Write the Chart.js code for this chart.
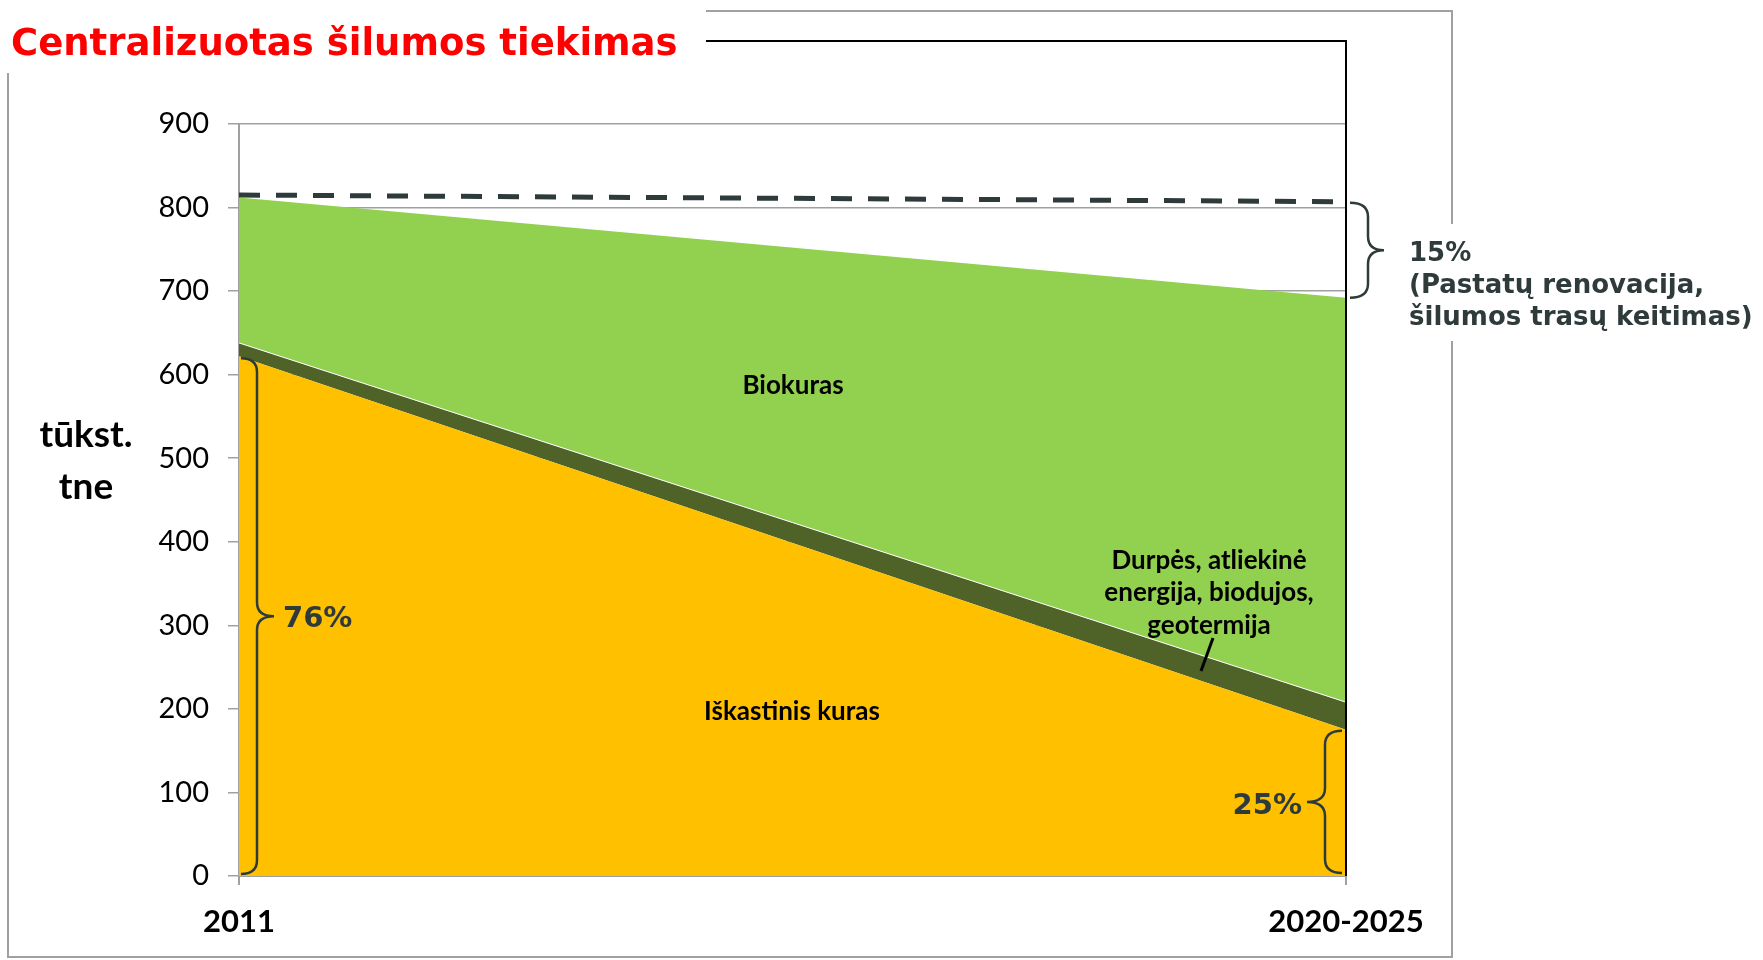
<!DOCTYPE html>
<html>
<head>
<meta charset="utf-8">
<script src="https://cdn.jsdelivr.net/npm/chart.js@4"></script>
<style>
  html, body { margin: 0; padding: 0; background: #fff; }
  canvas { display: block; }
</style>
</head>
<body>
<canvas id="heatChart" width="1763" height="960"></canvas>
<script>
// duomenys (tūkst. tne)
const categories = ['2011', '2020-2025'];
const fossilFuel = [622, 175];      // Iškastinis kuras
const otherSources = [16, 33];      // Durpės, atliekinė energija, biodujos, geotermija
const biofuel = [174, 484];         // Biokuras
const demandNoSavings = [815, 807]; // poreikis be renovacijos (punktyras)
const yMax = 900;
const yStep = 100;
const shareLabels = ['76%', '25%', '15%'];

const ink = '#2f3b3b';
const gray = '#a0a0a0';

function brace(ctx, xEnd, xSpine, xTip, yTop, yBot) {
    const yMid = (yTop + yBot) / 2;
    const r = Math.min(14, (yBot - yTop) / 4);
    ctx.beginPath();
    ctx.moveTo(xEnd, yTop);
    ctx.quadraticCurveTo(xSpine, yTop, xSpine, yTop + r);
    ctx.lineTo(xSpine, yMid - r);
    ctx.quadraticCurveTo(xSpine, yMid, xTip, yMid);
    ctx.quadraticCurveTo(xSpine, yMid, xSpine, yMid + r);
    ctx.lineTo(xSpine, yBot - r);
    ctx.quadraticCurveTo(xSpine, yBot, xEnd, yBot);
    ctx.stroke();
    return yMid;
}

const annotations = {
    id: 'annotations',
    afterDraw(chart) {
        const ctx = chart.ctx;
        const x = chart.scales.x;
        const y = chart.scales.y;
        const xa = x.getPixelForValue(0);
        const xb = x.getPixelForValue(1);
        const yZero = y.getPixelForValue(0);
        ctx.save();

        // rėmelis
        ctx.strokeStyle = gray;
        ctx.lineWidth = 2;
        ctx.beginPath();
        ctx.moveTo(706, 11); ctx.lineTo(1452, 11); ctx.lineTo(1452, 224);
        ctx.moveTo(1452, 341); ctx.lineTo(1452, 957); ctx.lineTo(8, 957); ctx.lineTo(8, 73);
        ctx.stroke();

        // pavadinimas
        ctx.fillStyle = '#ff0000';
        ctx.font = 'bold 37px "DejaVu Sans"';
        ctx.textAlign = 'left';
        ctx.textBaseline = 'alphabetic';
        ctx.fillText('Centralizuotas šilumos tiekimas', 11, 55);

        ctx.strokeStyle = '#000';
        ctx.lineWidth = 2;
        ctx.beginPath();
        ctx.moveTo(706, 41); ctx.lineTo(xb, 41); ctx.lineTo(xb, yZero);
        ctx.stroke();

        // ašies pavadinimas
        ctx.fillStyle = '#000';
        ctx.font = 'bold 37px Lato';
        ctx.textAlign = 'center';
        ctx.textBaseline = 'middle';
        ctx.fillText('tūkst.', 86, 435);
        ctx.fillText('tne', 86, 487);

        // riestiniai skliaustai
        ctx.strokeStyle = ink;
        ctx.fillStyle = ink;
        ctx.lineWidth = 2.5;
        const totalEnd = fossilFuel[1] + otherSources[1] + biofuel[1];
        const m1 = brace(ctx, xa + 2, 257, 274, y.getPixelForValue(fossilFuel[0]) + 2, yZero - 2);
        const m2 = brace(ctx, xb - 4, 1325, 1307, y.getPixelForValue(fossilFuel[1]) + 1, yZero - 3);
        const m3 = brace(ctx, xb + 4, 1368, 1384, y.getPixelForValue(demandNoSavings[1]) + 1, y.getPixelForValue(totalEnd));

        ctx.font = 'bold 29px "DejaVu Sans"';
        ctx.textAlign = 'left';
        ctx.fillText(shareLabels[0], 283, m1 + 3);
        ctx.textAlign = 'right';
        ctx.fillText(shareLabels[1], 1302, m2 + 5);
        ctx.font = 'bold 26px "DejaVu Sans"';
        ctx.textAlign = 'left';
        ctx.fillText(shareLabels[2], 1409, m3 + 4);
        ctx.fillText('(Pastatų renovacija,', 1409, m3 + 36);
        ctx.fillText('šilumos trasų keitimas)', 1409, m3 + 68);

        // plotų užrašai
        ctx.fillStyle = '#000';
        ctx.font = 'bold 26px Lato';
        ctx.textAlign = 'center';
        ctx.fillText('Biokuras', 793, 386);
        ctx.fillText('Iškastinis kuras', 792, 712);
        ctx.fillText('Durpės, atliekinė', 1209, 561);
        ctx.fillText('energija, biodujos,', 1209, 593);
        ctx.fillText('geotermija', 1209, 626);

        ctx.strokeStyle = '#000';
        ctx.lineWidth = 3;
        ctx.beginPath();
        ctx.moveTo(1213, 638);
        ctx.lineTo(1201, 671);
        ctx.stroke();

        ctx.restore();
    }
};

const ctx = document.getElementById('heatChart').getContext('2d');
new Chart(ctx, {
    type: 'line',
    data: {
        labels: categories,
        datasets: [
            {
                label: 'Poreikis',
                data: demandNoSavings,
                stack: 'total',
                borderColor: ink,
                borderWidth: 5,
                borderDash: [21, 16],
                pointRadius: 0,
                fill: false
            },
            {
                label: 'Iškastinis kuras',
                data: fossilFuel,
                stack: 'supply',
                borderWidth: 0,
                borderColor: 'rgba(0,0,0,0)',
                backgroundColor: '#ffc000',
                pointRadius: 0,
                fill: 'origin'
            },
            {
                label: 'Durpės, atliekinė energija, biodujos, geotermija',
                data: otherSources,
                stack: 'supply',
                borderWidth: 1,
                borderColor: '#ffffff',
                backgroundColor: '#4f6228',
                pointRadius: 0,
                fill: '-1'
            },
            {
                label: 'Biokuras',
                data: biofuel,
                stack: 'supply',
                borderWidth: 0,
                borderColor: 'rgba(0,0,0,0)',
                backgroundColor: '#92d050',
                pointRadius: 0,
                fill: '-1'
            }
        ]
    },
    options: {
        responsive: false,
        animation: false,
        devicePixelRatio: 1,
        layout: { padding: { top: 124, right: 417, bottom: 0, left: 0 } },
        plugins: {
            legend: { display: false },
            title: { display: false },
            tooltip: { enabled: false }
        },
        scales: {
            x: {
                offset: false,
                afterFit: s => { s.height = 84; },
                grid: { drawOnChartArea: false, drawTicks: true, tickLength: 9, color: gray, lineWidth: 2 },
                border: { color: gray, width: 2 },
                ticks: { color: '#000', font: { family: 'Lato', weight: 'bold', size: 31 }, padding: 18, maxRotation: 0 }
            },
            y: {
                stacked: true,
                min: 0,
                max: yMax,
                afterFit: s => { s.width = 239; },
                grid: { color: gray, lineWidth: 1.5, tickLength: 11 },
                border: { color: gray, width: 2 },
                ticks: { stepSize: yStep, color: '#000', font: { family: 'Lato', size: 29 }, padding: 19 }
            }
        }
    },
    plugins: [annotations]
});
</script>
</body>
</html>
